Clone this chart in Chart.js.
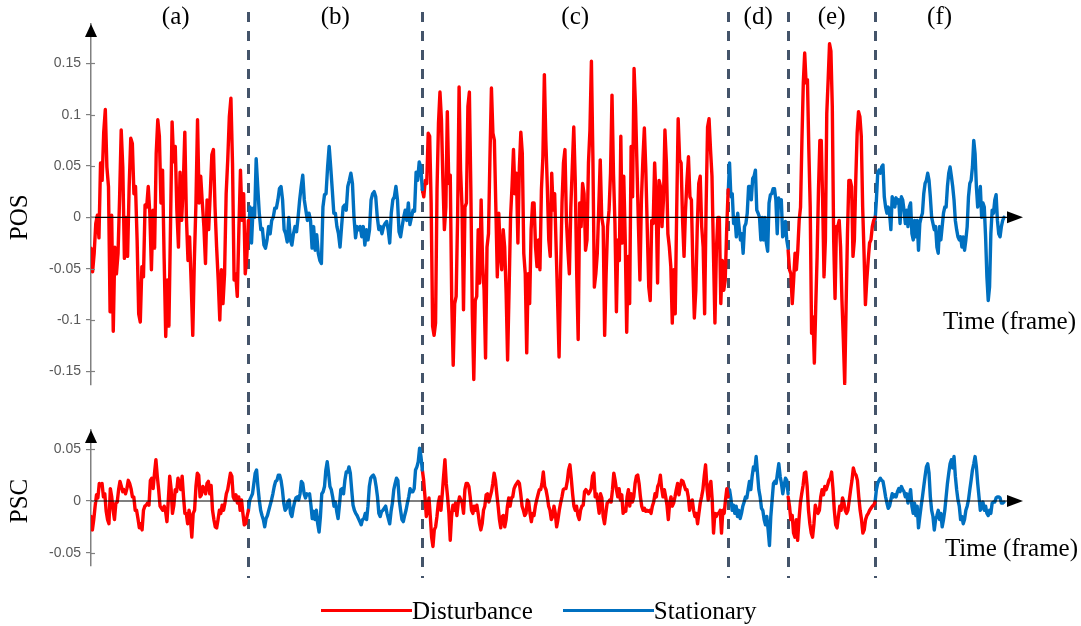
<!DOCTYPE html>
<html>
<head>
<meta charset="utf-8">
<script src="https://cdn.jsdelivr.net/npm/chart.js@4.4.1/dist/chart.umd.min.js"></script>
<style>
  body { margin: 0; background: #fff; width: 1081px; height: 626px; overflow: hidden; position: relative; }
  #posWrap { position: absolute; left: 0; top: 0; width: 1081px; height: 405px; }
  #pscWrap { position: absolute; left: 0; top: 405px; width: 1081px; height: 221px; }
  #legend { position: absolute; left: 321px; top: 598px; height: 25px; display: flex; align-items: center;
            font: 25px "Liberation Serif", "Times New Roman", serif; line-height: 25px; color: #000; }
  #legend .sw { display: inline-block; width: 91px; height: 3px; }
  #legend .gap { display: inline-block; width: 30px; }
</style>
</head>
<body>
<div id="posWrap"><canvas id="posChart"></canvas></div>
<div id="pscWrap"><canvas id="pscChart"></canvas></div>
<div id="legend"></div>
<script>
// ── Datos ──────────────────────────────────────────────────────────────────
// frames where each segment starts/ends (a)…(f)
const segBounds = [0, 105, 221, 425, 465, 523, 609];
const segLabels = ['(a)', '(b)', '(c)', '(d)', '(e)', '(f)'];
const segKinds  = ['Disturbance', 'Stationary', 'Disturbance', 'Stationary', 'Disturbance', 'Stationary'];

const posTicks      = [-0.15, -0.1, -0.05, 0, 0.05, 0.1, 0.15];
const posTickLabels = ['-0.15', '-0.1', '-0.05', '0', '0.05', '0.1', '0.15'];
const pscTicks      = [-0.05, 0, 0.05];
const pscTickLabels = ['-0.05', '0', '0.05'];

// POS
const posA = [-0.03,-0.053,-0.035,-0.006,0.002,-0.02,0.053,0.036,0.083,0.105,0.049,0.03,-0.092,0.002,-0.111,-0.029,-0.055,-0.035,0.02,0.085,0.049,-0.04,0.0,-0.038,0.03,0.077,0.072,0.023,0.03,-0.022,-0.094,-0.102,-0.048,-0.058,0.012,0.01,0.03,0.004,-0.051,0.007,-0.03,0.062,0.095,0.079,0.014,0.046,-0.04,-0.116,-0.061,-0.106,-0.009,0.093,0.054,0.069,0.007,-0.029,0.044,-0.003,0.03,0.083,0.0,-0.042,-0.019,-0.064,-0.115,-0.042,0.014,0.095,0.014,0.04,0.014,-0.009,-0.045,0.017,-0.012,0.023,0.061,0.066,0.01,-0.029,-0.061,-0.1,-0.051,-0.084,-0.055,0.023,0.056,0.098,0.116,0.053,-0.061,-0.055,-0.077,-0.012,0.046,-0.003,0.023,-0.055,-0.038,-0.003];
const posB = [-0.022,0.01,-0.025,0.009,0,0.057,0.03,0.004,-0.012,-0.011,-0.027,-0.03,-0.022,-0.009,-0.016,-0.003,0,0.009,0.009,0.017,0.028,0.03,0.017,-0.012,-0.016,-0.024,0,-0.022,-0.027,-0.016,-0.009,-0.014,0,0.017,0.03,0.041,0.017,0.007,-0.003,0.004,-0.003,-0.03,-0.009,-0.032,-0.017,-0.035,-0.042,-0.045,0.01,0.022,0.023,0.049,0.069,0.049,0.027,0.004,0.004,-0.009,-0.016,-0.029,-0.009,0.01,0.012,0.007,0.03,0.036,0.043,0.033,0,-0.02,-0.009,-0.012,-0.009,-0.019,-0.009,-0.027,-0.012,-0.022,-0.012,0.017,0.023,0.025,0.02,0,-0.012,-0.009,-0.016,-0.009,-0.006,-0.004,-0.012,-0.025,0.004,0.017,0.02,0.03,0.017,-0.014,-0.019,-0.009,0,0.007,-0.003,0.014,-0.007,0,0.007,0.006,0.044,0.036,0.054,0.049,0.027];
const posC = [0.027,0.02,0.036,0.033,0.082,0.079,0.014,-0.106,-0.115,-0.103,0.027,0.092,0.122,0.095,0.036,-0.012,0.01,0.103,0.033,0.041,-0.081,-0.144,-0.084,-0.077,0.0,0.127,0.046,0.01,-0.09,0.01,0.014,0.108,0.122,0.027,-0.094,-0.158,-0.081,-0.077,-0.012,-0.064,0.017,-0.045,-0.071,-0.137,-0.029,-0.016,0.059,0.126,0.082,0.075,0.01,-0.058,0.004,-0.035,-0.051,-0.012,-0.029,-0.074,-0.139,-0.071,0.0,0.03,0.066,0.023,0.043,-0.025,0.049,0.083,0.062,-0.035,-0.055,-0.132,-0.055,-0.084,-0.012,0.014,0.014,-0.029,-0.048,-0.022,-0.051,0.027,0.059,0.139,0.075,0.03,-0.022,-0.038,0.043,0.007,0.023,-0.029,-0.081,-0.136,-0.055,0.014,0.053,0.066,-0.003,-0.032,-0.055,0.01,0.049,0.088,0.036,-0.055,-0.119,
  0.014,-0.009,0.033,0.023,-0.032,-0.022,0.053,0.085,0.152,0.059,-0.068,-0.055,-0.035,0.01,0.056,0.0,-0.009,-0.115,-0.055,-0.009,0.007,0.043,0.119,0.043,-0.006,-0.092,-0.022,-0.042,0.079,-0.025,0.04,-0.022,-0.112,-0.038,-0.084,0.069,0.02,0.145,0.108,0.049,-0.009,-0.061,0.017,0.056,0.087,0.046,-0.012,-0.068,-0.081,-0.003,-0.006,0.053,0.017,-0.064,0.036,0.03,-0.009,0.017,0.085,0.053,-0.016,-0.029,-0.048,-0.103,-0.051,-0.094,0.007,0.096,0.056,0.053,-0.003,-0.038,0.007,0.036,0.059,0.02,0.017,-0.048,-0.098,-0.071,-0.009,0.033,0.04,-0.009,-0.029,-0.094,0.01,0.088,0.096,0.066,0.04,-0.035,-0.103,-0.032,0.0,0.0,-0.084,-0.042,-0.071,-0.061,-0.012,0.027];
const posD = [0.023,0.053,0.02,0.023,-0.006,0.0,-0.019,0.004,-0.009,-0.022,-0.016,-0.035,-0.009,-0.006,0.004,0.03,0.03,0.017,0.038,0.04,0.046,0.007,0.004,0.0,-0.022,0.0,-0.022,0.0,-0.025,-0.033,0.014,0.022,0.023,0.028,0.028,0.017,-0.016,0.019,0.014,0.017,-0.019,-0.016,-0.004,-0.022,-0.03];
const posE = [-0.032,-0.051,-0.055,-0.084,-0.061,-0.035,-0.051,-0.032,-0.003,0.01,0.075,0.131,0.16,0.131,0.134,0.066,0.01,-0.113,-0.097,-0.142,-0.087,-0.038,0.027,0.075,0.075,0.017,-0.058,-0.022,0.101,0.134,0.169,0.162,0.108,-0.022,-0.079,-0.009,-0.009,-0.003,-0.029,-0.081,-0.119,-0.162,-0.087,-0.016,0.036,0.036,0.03,-0.038,-0.022,0.036,0.082,0.103,0.098,0.079,0.01,-0.035,-0.085,-0.061,-0.042,-0.025,-0.022,-0.009,-0.003,0.0];
const posF = [-0.003,0.017,0.043,0.046,0.043,0.049,0.051,0.02,0.01,0.004,0.01,0.004,-0.012,0.02,0.017,0.01,0.019,0.014,0.017,-0.006,0.02,0.017,0.007,-0.006,0.007,-0.009,0.01,0.014,-0.016,-0.022,-0.003,-0.019,-0.003,-0.032,-0.006,0.0,0.004,0.023,0.033,0.036,0.043,0.036,0.02,0.0,-0.006,-0.012,-0.009,-0.029,-0.035,-0.009,-0.022,-0.009,0.004,0.01,0.01,0.03,0.043,0.049,0.04,0.03,0.017,-0.003,-0.012,-0.019,-0.022,-0.019,-0.029,-0.019,-0.032,-0.022,-0.009,0.02,0.033,0.036,0.049,0.075,0.062,0.03,0.01,0.017,0.03,0.0,0.014,0.01,-0.019,-0.058,-0.081,-0.068,-0.016,0.007,0.004,0.017,0.022,-0.003,-0.016,-0.019,-0.009,-0.003,0.0];

// PSC
const pscA = [-0.015,-0.028,-0.018,-0.005,0.006,0.003,0.017,0.015,0.017,0.004,0.007,-0.01,-0.018,-0.022,0.012,0.004,-0.009,-0.018,-0.002,-0.001,0.011,0.019,0.014,0.009,0.011,0.007,0.012,0.02,0.017,0.012,0.004,0.004,-0.009,-0.009,-0.017,-0.026,-0.022,-0.028,-0.009,-0.005,-0.004,-0.002,-0.004,0.02,0.022,0.012,0.027,0.04,0.024,0.011,-0.005,-0.007,-0.009,-0.005,-0.01,-0.02,0.001,0.024,0.012,-0.012,-0.004,0.011,0.009,0.022,0.017,0.011,0.024,0.004,-0.012,-0.012,-0.022,-0.009,-0.017,-0.035,-0.012,-0.009,0.014,0.027,0.025,0.004,0.006,0.014,0.012,0.007,0.017,0.019,0.007,0.015,-0.009,-0.018,-0.025,-0.026,-0.018,-0.009,-0.012,-0.004,-0.009,-0.002,0.007,0.011,0.019,0.027,0.024,0.004,0.001,0.006,-0.002,0.004,-0.009,0.001,-0.012,-0.023,-0.022,-0.015,-0.009];
const pscB = [-0.009,0.001,0.004,0.007,0.017,0.027,0.03,0.014,0.001,-0.009,-0.014,-0.018,-0.025,-0.017,-0.014,-0.009,-0.004,0.001,0.007,0.014,0.019,0.02,0.025,0.025,0.02,0.011,-0.002,-0.009,-0.007,-0.001,0.001,-0.012,-0.015,-0.007,-0.001,0.003,0.004,0.001,0.007,0.019,
  0.017,0.007,0.003,0.007,0.006,0.007,-0.004,-0.017,-0.01,-0.018,-0.009,-0.022,-0.03,-0.015,0.007,0.009,0.014,0.03,0.038,0.027,0.014,0.011,0.004,-0.005,-0.001,-0.01,-0.017,-0.004,0.011,0.012,0.007,0.02,0.028,0.028,0.033,0.027,0.011,-0.004,-0.009,-0.012,-0.014,-0.017,-0.02,-0.023,-0.018,-0.017,-0.012,-0.018,-0.005,0.014,0.022,0.024,0.025,0.022,0.014,0.004,-0.012,-0.015,-0.01,-0.009,-0.007,-0.005,-0.012,-0.017,-0.022,-0.01,-0.002,0.011,0.017,0.022,0.02,0.001,-0.009,-0.018,-0.02,-0.014,-0.009,-0.002,0.004,0.012,0.009,0.009,0.012,0.03,0.033,0.038,0.051,0.043,0.03];
const pscC = [0.03,0.02,0.004,-0.015,-0.009,0.003,-0.015,-0.035,-0.044,-0.028,-0.025,-0.015,-0.002,0.004,-0.009,0.007,0.024,0.04,0.017,0.004,-0.012,-0.038,-0.015,-0.004,-0.009,-0.002,-0.014,-0.002,0.004,0.001,-0.002,-0.012,0.011,0.017,0.017,0.014,0.004,-0.009,-0.012,-0.005,-0.009,-0.004,-0.012,-0.022,-0.028,-0.022,-0.009,-0.005,0.006,0.007,-0.001,0.004,0.009,0.017,0.027,0.02,0.007,-0.005,-0.018,-0.026,-0.015,-0.014,-0.025,-0.018,-0.005,0.003,
  -0.005,0.003,0.004,0.012,0.015,0.017,0.019,0.017,0.007,-0.005,-0.009,-0.014,-0.012,0.001,-0.001,-0.012,-0.02,-0.012,-0.014,-0.005,0.001,0.006,0.011,0.011,0.017,0.028,0.014,0.011,0.004,-0.005,-0.009,-0.018,-0.015,-0.005,-0.012,-0.025,-0.018,-0.009,-0.002,0.004,0.011,0.012,0.012,0.019,0.03,0.035,0.022,0.007,-0.005,-0.009,-0.005,-0.014,-0.018,-0.009,-0.005,-0.004,0.009,0.011,0.009,0.007,0.009,0.012,0.024,0.027,0.004,0.007,-0.002,-0.012,0.007,0.003,-0.015,-0.022,-0.012,-0.002,-0.001,0.001,-0.001,0.011,0.027,0.02,0.011,0.004,0.012,0.001,0.006,-0.012,-0.009,-0.01,0.004,0.011,-0.005,0.007,-0.001,0.004,0.017,0.024,0.025,0.017,0.004,-0.005,-0.009,-0.007,-0.01,-0.009,-0.01,-0.009,-0.012,-0.005,-0.001,0.007,0.004,0.014,0.017,0.025,0.012,0.004,0.011,0.004,-0.004,-0.018,-0.002,0.004,-0.005,-0.002,0.004,0.011,0.017,0.006,0.014,0.02,0.019,0.015,0.011,0.011,0.004,-0.009,-0.001,0.001,-0.009,-0.015,-0.012,-0.022,-0.012,-0.002,0.004,0.011,0.024,0.035,0.014,0.001,0.014,0.019,0.001,-0.031,-0.012,-0.015,-0.012,-0.012,-0.009,-0.031,-0.009,-0.012,0.001,0.012,0.004];
const pscD = [0.004,0.011,0.003,-0.009,-0.004,-0.012,-0.005,-0.015,-0.009,-0.017,-0.012,-0.005,-0.001,0.004,0.003,0.011,0.019,0.011,0.024,0.033,0.03,0.043,0.027,0.011,0.004,-0.007,-0.009,-0.018,-0.023,-0.015,-0.028,-0.043,-0.015,0.001,0.017,0.019,0.017,0.027,0.036,0.024,0.017,0.007,0.015,0.022,0.02,0.007];
const pscE = [0.004,-0.005,-0.018,-0.014,-0.031,-0.035,-0.018,-0.038,-0.018,-0.002,0.007,0.015,0.027,0.028,0.014,-0.009,-0.022,-0.031,-0.035,-0.022,-0.004,-0.009,-0.012,-0.009,0.004,0.011,0.006,0.014,0.011,0.015,0.02,0.022,0.028,0.012,-0.009,-0.023,-0.026,-0.015,-0.005,-0.009,0.003,-0.001,-0.009,-0.012,-0.009,0.001,0.011,0.02,0.032,0.027,0.025,0.02,0.004,-0.009,-0.018,-0.031,-0.028,-0.018,-0.014,-0.012,-0.009,-0.007,-0.005,-0.004,-0.001];
const pscF = [-0.001,0.011,0.017,0.02,0.022,0.02,0.019,0.012,0.004,-0.002,-0.007,-0.005,0.001,0.007,0.004,0.006,0.004,0.009,0.012,0.009,0.014,0.011,0.009,0.004,0.007,-0.002,0.004,0.011,-0.005,-0.012,-0.002,-0.014,-0.005,-0.026,-0.015,-0.005,0.004,0.014,0.024,0.033,0.036,0.027,0.004,-0.009,-0.015,-0.028,-0.018,-0.014,-0.009,-0.018,-0.012,-0.025,-0.018,-0.009,0.004,0.017,0.027,0.036,0.04,0.032,0.043,0.024,0.011,0.001,-0.005,-0.018,-0.015,-0.022,-0.018,-0.009,-0.005,0.001,0.011,0.02,0.03,0.036,0.043,0.033,0.017,0.004,-0.009,-0.005,-0.001,-0.009,-0.005,-0.012,-0.014,-0.009,-0.012,-0.002,-0.001,-0.001,0.003,0.004,0.004,0.003,-0.002,-0.002,-0.001];

const KIND_COLORS = { Disturbance: '#ff0000', Stationary: '#0070c0' };

// ── Utils ──────────────────────────────────────────────────────────────────
const $ = id => document.getElementById(id);

// spread a segment's samples evenly over its frame range
function _toPoints(vals, i) {
  const b0 = segBounds[i], b1 = segBounds[i + 1];
  return vals.map((v, k) => ({ x: b0 + k * (b1 - b0) / (vals.length - 1), y: v }));
}

function _datasets(segments) {
  return segments.map((vals, i) => ({
    label:           segKinds[i],
    data:            _toPoints(vals, i),
    borderColor:     KIND_COLORS[segKinds[i]],
    borderWidth:     3.4,
    pointRadius:     0,
    tension:         0,
    borderJoinStyle: 'round',
    borderCapStyle:  'round',
  }));
}

// ── Decoración (separadores, flechas, etiquetas) ─────────────────────────────
const decor = {
  id: 'decor',
  beforeDatasetsDraw(chart, args, o) {
    const { ctx } = chart, xs = chart.scales.x;
    ctx.save();
    ctx.strokeStyle = '#44546a';
    ctx.lineWidth = 3;
    ctx.setLineDash([10, 9]);
    segBounds.slice(1, -1).forEach(b => {
      const px = Math.round(xs.getPixelForValue(b)) + 0.5;
      ctx.beginPath();
      ctx.moveTo(px, o.dashTop);
      ctx.lineTo(px, o.dashBottom);
      ctx.stroke();
    });
    ctx.restore();
  },
  afterDatasetsDraw(chart, args, o) {
    const { ctx, chartArea: a } = chart, xs = chart.scales.x, ys = chart.scales.y;
    const y0 = ys.getPixelForValue(0);
    ctx.save();

    // eje de tiempo (línea cero) con flecha
    ctx.strokeStyle = '#000';
    ctx.lineWidth = 1.2;
    ctx.beginPath();
    ctx.moveTo(a.left, y0);
    ctx.lineTo(a.right - 16, y0);
    ctx.stroke();
    ctx.fillStyle = '#000';
    ctx.beginPath();
    ctx.moveTo(a.right - 2, y0);
    ctx.lineTo(a.right - 18, y0 - 6);
    ctx.lineTo(a.right - 18, y0 + 6);
    ctx.closePath();
    ctx.fill();

    // flecha eje Y
    ctx.beginPath();
    ctx.moveTo(a.left, a.top);
    ctx.lineTo(a.left - 6, a.top + 13);
    ctx.lineTo(a.left + 6, a.top + 13);
    ctx.closePath();
    ctx.fill();

    // parte interior de las marcas del eje Y
    ctx.strokeStyle = '#808080';
    ctx.lineWidth = 1.2;
    ys.ticks.forEach(t => {
      const py = Math.round(ys.getPixelForValue(t.value)) + 0.5;
      ctx.beginPath();
      ctx.moveTo(a.left, py);
      ctx.lineTo(a.left + 4, py);
      ctx.stroke();
    });

    ctx.font = '25px "Liberation Serif", "Times New Roman", serif';
    ctx.fillStyle = '#000';

    // "Time (frame)"
    ctx.textAlign = 'right';
    ctx.textBaseline = 'middle';
    ctx.fillText('Time (frame)', o.timeX, y0 + o.timeDy);

    // (a) … (f)
    if (o.letters) {
      ctx.textAlign = 'center';
      segLabels.forEach((lab, i) => {
        const mid = (segBounds[i] + segBounds[i + 1]) / 2 + (i === 0 ? 4 : 0);
        ctx.fillText(lab, xs.getPixelForValue(mid), 17);
      });
    }

    // nombre del eje
    ctx.translate(20, y0);
    ctx.rotate(-Math.PI / 2);
    ctx.textAlign = 'center';
    ctx.fillText(o.name, 0, 0);
    ctx.restore();
  },
};

function _options({ yMin, yMax, ticks, tickLabels, padTop, padBottom, deco }) {
  return {
    responsive: true,
    maintainAspectRatio: false,
    animation: false,
    events: [],
    layout: { padding: { top: padTop, bottom: padBottom, left: 0, right: 56 } },
    plugins: { legend: { display: false }, tooltip: { enabled: false }, decor: deco },
    scales: {
      x: { type: 'linear', min: 0, max: 623, display: false },
      y: {
        min: yMin,
        max: yMax,
        afterFit: s => { s.width = 91; },
        afterBuildTicks: s => { s.ticks = ticks.map(v => ({ value: v })); },
        ticks: {
          callback: (v, i) => tickLabels[i],
          font: { family: '"Liberation Sans", Arial, sans-serif', size: 14 },
          color: '#595959',
          padding: 5,
        },
        grid: { drawOnChartArea: false, drawTicks: true, tickLength: 5, color: '#808080', lineWidth: 1.2 },
        border: { display: true, color: '#808080', width: 1.5 },
      },
    },
  };
}

// ── Gráficos ───────────────────────────────────────────────────────────────
new Chart($('posChart'), {
  type: 'line',
  data: { datasets: _datasets([posA, posB, posC, posD, posE, posF]) },
  options: _options({
    yMin: -0.1633, yMax: 0.1883, ticks: posTicks, tickLabels: posTickLabels,
    padTop: 24, padBottom: 20,
    deco: { name: 'POS', letters: true, dashTop: 12, dashBottom: 405, timeX: 1076, timeDy: 105 },
  }),
  plugins: [decor],
});

new Chart($('pscChart'), {
  type: 'line',
  data: { datasets: _datasets([pscA, pscB, pscC, pscD, pscE, pscF]) },
  options: _options({
    yMin: -0.0629, yMax: 0.0687, ticks: pscTicks, tickLabels: pscTickLabels,
    padTop: 25, padBottom: 60,
    deco: { name: 'PSC', letters: false, dashTop: 0, dashBottom: 173, timeX: 1078, timeDy: 48 },
  }),
  plugins: [decor],
});

// ── Leyenda ────────────────────────────────────────────────────────────────
const legendItems = ['Disturbance', 'Stationary'];
$('legend').innerHTML = legendItems.map((k, i) =>
  (i ? '<span class="gap"></span>' : '') +
  `<span class="sw" style="background:${KIND_COLORS[k]}"></span><span>${k}</span>`
).join('');
</script>
</body>
</html>
